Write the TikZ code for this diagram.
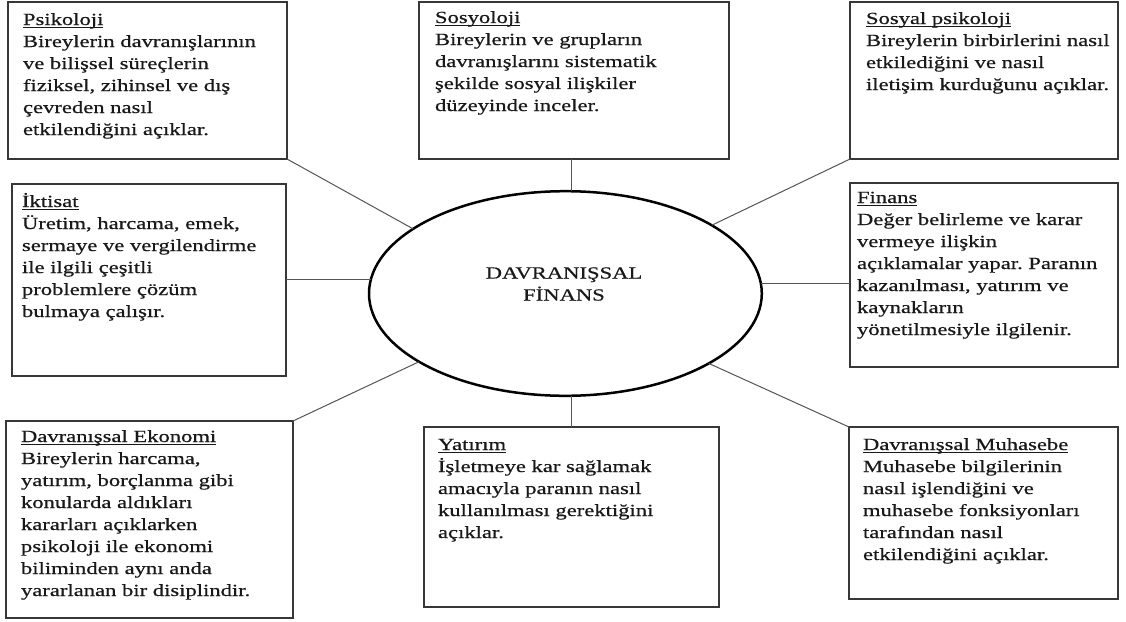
\documentclass[tikz,border=0pt]{standalone}
\usepackage{fontspec}
\setmainfont{Liberation Serif}[FakeStretch=1.33,FakeBold=0.6]
\frenchspacing
\usetikzlibrary{shapes.geometric}
\definecolor{txtc}{RGB}{25,25,25}
\definecolor{boxc}{RGB}{55,55,55}
\definecolor{conc}{RGB}{85,85,85}
\newsavebox{\undlbox}
\newcommand{\undl}[1]{\sbox{\undlbox}{#1}\rlap{\rule[-2.6pt]{\wd\undlbox}{0.9pt}}\usebox{\undlbox}}
\tikzset{
  infob/.style={draw=boxc, line width=1.3pt, inner sep=0pt, outer sep=0pt, text=txtc,
    font=\fontsize{17pt}{22pt}\selectfont},
  conn/.style={draw=conc, line width=1pt},
  centre/.style={ellipse, draw=black, line width=2.5pt, inner sep=0pt, outer sep=0pt,
    minimum width=392.8pt, minimum height=204.6pt},
  titletext/.style={text=txtc, align=center, font=\fontsize{17pt}{22pt}\selectfont}
}
% name, x, y, W, H, padx, pady, title, body
\newcommand{\infobox}[9]{%
  \node[infob, anchor=north west] (#1) at (#2,#3) {\parbox[t][#5pt][t]{#4pt}{%
    \frenchspacing\leftskip=#6pt\rightskip=-200pt plus 1fil\parfillskip=0pt plus 1fil%
    \rule{0pt}{#7pt}\undl{#8}\\#9}};}
\begin{document}
\begin{tikzpicture}[x=1pt,y=-1pt]
\useasboundingbox[fill=white] (0,0) rectangle (1126,621);

\infobox{psi}{8}{2}{279}{157}{15}{23}{Psikoloji}{Bireylerin davranışlarının\\ve bilişsel süreçlerin\\fiziksel, zihinsel ve dış\\çevreden nasıl\\etkilendiğini açıklar.}
\infobox{sos}{419}{2}{310}{157}{16}{21}{Sosyoloji}{Bireylerin ve grupların\\davranışlarını sistematik\\şekilde sosyal ilişkiler\\düzeyinde inceler.}
\infobox{spsi}{850}{2}{268}{157}{16}{22}{Sosyal psikoloji}{Bireylerin birbirlerini nasıl\\etkilediğini ve nasıl\\iletişim kurduğunu açıklar.}
\infobox{ikt}{12}{184}{274}{192}{10}{23}{İktisat}{Üretim, harcama, emek,\\sermaye ve vergilendirme\\ile ilgili çeşitli\\problemlere çözüm\\bulmaya çalışır.}
\infobox{fin}{850}{183}{268}{184}{7}{20}{Finans}{Değer belirleme ve karar\\vermeye ilişkin\\açıklamalar yapar. Paranın\\kazanılması, yatırım ve\\kaynakların\\yönetilmesiyle ilgilenir.}
\infobox{dek}{6}{421}{287}{197}{15}{21}{Davranışsal Ekonomi}{Bireylerin harcama,\\yatırım, borçlanma gibi\\konularda aldıkları\\kararları açıklarken\\psikoloji ile ekonomi\\biliminden aynı anda\\yararlanan bir disiplindir.}
\infobox{yat}{424}{427}{295}{180}{14}{23}{Yatırım}{İşletmeye kar sağlamak\\amacıyla paranın nasıl\\kullanılması gerektiğini\\açıklar.}
\infobox{muh}{849}{427}{269}{172}{14}{23}{Davranışsal Muhasebe}{Muhasebe bilgilerinin\\nasıl işlendiğini ve\\muhasebe fonksiyonları\\tarafından nasıl\\etkilendiğini açıklar.}

\node[centre] (ell) at (565.4,293.5) {};
\node[titletext] (ttl) at (564,284) {DAVRANIŞSAL\\FİNANS};

\coordinate (vx) at (571.5,0);
\draw[conn] (sos.south -| vx) -- (ell.north -| vx);
\draw[conn] (ell.south -| vx) -- (yat.north -| vx);
\draw[conn] (ell.176.6) -- (ell.176.6 -| ikt.east);
\draw[conn] (ell.3.4) -- (ell.3.4 -| fin.west);
\draw[conn] (psi.south east) -- (ell.157.4);
\draw[conn] (spsi.south west) -- (ell.25.1);
\draw[conn] (dek.north east) -- (ell.205.1);
\draw[conn] (muh.north west) -- (ell.334.7);
\end{tikzpicture}
\end{document}
